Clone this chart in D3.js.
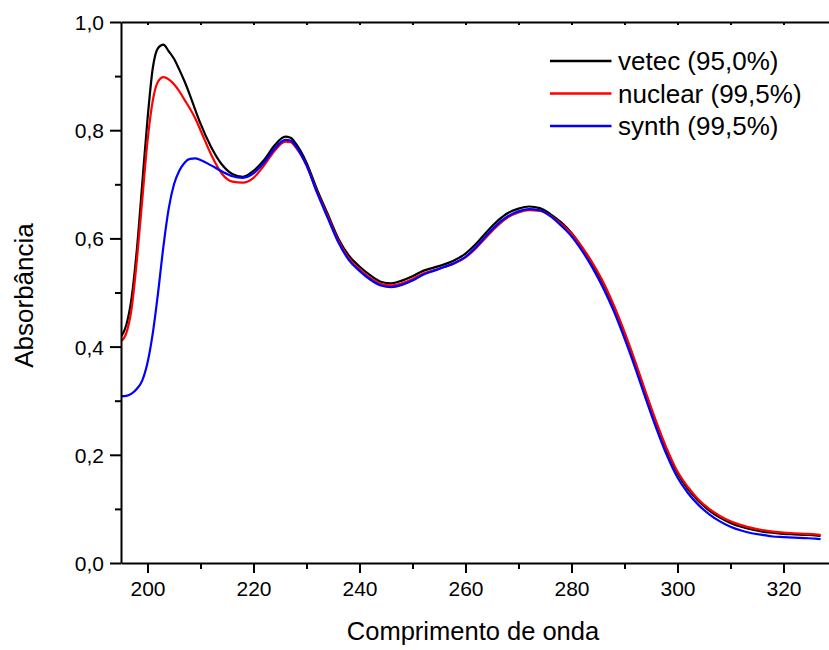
<!DOCTYPE html>
<html>
<head>
<meta charset="utf-8">
<script src="https://cdn.jsdelivr.net/npm/d3@7"></script>
<style>
  html, body { margin: 0; padding: 0; background: #fff; }
  svg { display: block; font-family: "Liberation Sans", Arial, sans-serif; }
</style>
</head>
<body>
<svg id="chart" width="829" height="650"></svg>
<script>
// Wavelength samples (nm)
const wavelength = [195,196,197,198,199,200,201,202,203,204,205,206,207,208,209,210,
  212,214,216,218,220,222,224,226,227,228,230,232,234,236,238,240,242,244,246,248,250,
  252,254,256,258,260,262,264,266,268,270,272,274,276,278,280,282,284,286,288,290,292,
  294,296,298,300,302,304,306,308,310,312,314,316,318,320,322,324,326,327];

// Absorbance per sample
const vetec = [0.418,0.44,0.49,0.58,0.70,0.82,0.915,0.952,0.958,0.946,0.932,0.912,0.89,0.865,0.838,0.812,
  0.769,0.737,0.719,0.714,0.725,0.745,0.772,0.788,0.786,0.775,0.74,0.69,0.645,0.60,0.568,0.548,0.532,0.52,0.517,0.522,0.53,
  0.54,0.546,0.552,0.56,0.572,0.59,0.612,0.632,0.647,0.655,0.659,0.656,0.645,0.630,0.610,0.583,0.552,0.516,0.473,0.424,0.370,
  0.313,0.258,0.208,0.166,0.136,0.114,0.097,0.084,0.074,0.067,0.062,0.058,0.056,0.054,0.053,0.052,0.051,0.050];

const nuclear = [0.41,0.425,0.47,0.56,0.67,0.78,0.855,0.89,0.898,0.894,0.885,0.872,0.856,0.84,0.822,0.80,
  0.755,0.72,0.705,0.703,0.712,0.735,0.762,0.779,0.778,0.768,0.735,0.686,0.641,0.596,0.563,0.543,0.527,0.516,0.513,0.517,0.525,
  0.535,0.541,0.547,0.554,0.565,0.582,0.603,0.623,0.639,0.648,0.652,0.651,0.642,0.627,0.609,0.584,0.554,0.519,0.476,0.427,0.373,
  0.316,0.261,0.211,0.169,0.140,0.117,0.100,0.087,0.077,0.070,0.065,0.061,0.058,0.056,0.055,0.054,0.053,0.052];

const synth = [0.308,0.309,0.313,0.322,0.337,0.37,0.425,0.50,0.585,0.655,0.70,0.725,0.740,0.747,0.748,0.745,
  0.735,0.724,0.715,0.712,0.72,0.74,0.766,0.782,0.781,0.77,0.735,0.684,0.638,0.593,0.56,0.54,0.524,0.513,0.51,0.514,0.522,
  0.533,0.54,0.547,0.555,0.566,0.584,0.606,0.626,0.641,0.65,0.654,0.652,0.641,0.624,0.604,0.577,0.545,0.508,0.465,0.415,0.361,
  0.304,0.249,0.199,0.158,0.129,0.107,0.090,0.077,0.067,0.060,0.055,0.052,0.049,0.048,0.047,0.046,0.045,0.044];

const seriesNames = ["vetec (95,0%)", "nuclear (99,5%)", "synth (99,5%)"];
const seriesColors = ["#000000", "#ff0000", "#0000ff"];
const seriesValues = [vetec, nuclear, synth];

const xTicks = [200, 220, 240, 260, 280, 300, 320];
const xMinorTicks = [210, 230, 250, 270, 290, 310];
const yTicks = [0.0, 0.2, 0.4, 0.6, 0.8, 1.0];
const yMinorTicks = [0.1, 0.3, 0.5, 0.7, 0.9];

const xTitle = "Comprimento de onda";
const yTitle = "Absorbância";

const svg = d3.select("#chart");
const m = { left: 121, top: 22, right: 836.5, bottom: 563 };

const x = d3.scaleLinear().domain([195, 330]).range([m.left, m.right]);
const y = d3.scaleLinear().domain([0, 1.0]).range([m.bottom, m.top]);
const fmt = d => d.toFixed(1).replace(".", ",");

svg.append("defs").append("clipPath").attr("id", "plotclip")
  .append("rect").attr("x", m.left).attr("y", m.top)
  .attr("width", m.right - m.left).attr("height", m.bottom - m.top);

// Curves
const line = d3.line()
  .x(d => x(d[0])).y(d => y(d[1]))
  .curve(d3.curveMonotoneX);

const plot = svg.append("g").attr("clip-path", "url(#plotclip)");
seriesValues.forEach((vals, i) => {
  plot.append("path")
    .datum(wavelength.map((w, j) => [w, vals[j]]))
    .attr("fill", "none")
    .attr("stroke", seriesColors[i])
    .attr("stroke-width", 2.2)
    .attr("stroke-linejoin", "round")
    .attr("d", line);
});

// Axes
function styleAxis(g) {
  g.selectAll("path.domain").attr("stroke", "#000").attr("stroke-width", 2);
  g.selectAll(".tick line").attr("stroke", "#000").attr("stroke-width", 2);
  g.selectAll("text").attr("fill", "#000").style("font-size", "21px")
    .style("font-family", "'Liberation Sans', Arial, sans-serif");
}

const xAxis = svg.append("g").attr("transform", `translate(0,${m.bottom})`)
  .call(d3.axisBottom(x).tickValues(xTicks).tickFormat(d3.format("d"))
    .tickSizeInner(10).tickSizeOuter(0).tickPadding(8));
styleAxis(xAxis);

svg.append("g").attr("transform", `translate(0,${m.bottom})`)
  .call(d3.axisBottom(x).tickValues(xMinorTicks).tickFormat("").tickSize(6).tickSizeOuter(0))
  .call(g => { g.select(".domain").remove(); styleAxis(g); });

const yAxis = svg.append("g").attr("transform", `translate(${m.left},0)`)
  .call(d3.axisLeft(y).tickValues(yTicks).tickFormat(fmt)
    .tickSizeInner(11).tickSizeOuter(0).tickPadding(6));
styleAxis(yAxis);
yAxis.selectAll("text").attr("dy", "0.36em");

svg.append("g").attr("transform", `translate(${m.left},0)`)
  .call(d3.axisLeft(y).tickValues(yMinorTicks).tickFormat("").tickSize(6).tickSizeOuter(0))
  .call(g => { g.select(".domain").remove(); styleAxis(g); });

// Top frame with small inward ticks
svg.append("g").attr("transform", `translate(0,${m.top})`)
  .call(d3.axisTop(x).tickValues(xTicks.concat(xMinorTicks)).tickFormat("").tickSize(-3).tickSizeOuter(0))
  .call(styleAxis);

// Right frame
svg.append("g").attr("transform", `translate(${m.right},0)`)
  .call(d3.axisRight(y).tickValues(yTicks).tickFormat("").tickSize(-3).tickSizeOuter(0))
  .call(styleAxis);

// Axis titles
svg.append("text")
  .attr("x", (m.left + 829) / 2 - 2).attr("y", 640)
  .attr("text-anchor", "middle")
  .style("font-size", "25.5px")
  .text(xTitle);

svg.append("text")
  .attr("transform", `translate(33,${(m.top + m.bottom) / 2 + 3}) rotate(-90)`)
  .attr("text-anchor", "middle")
  .style("font-size", "26px")
  .text(yTitle);

// Legend
const legend = svg.append("g").attr("transform", "translate(550,61)");
seriesNames.forEach((name, i) => {
  const row = legend.append("g").attr("transform", `translate(0,${i * 32.5})`);
  row.append("line").attr("x1", 0).attr("x2", 61.5).attr("y1", 0).attr("y2", 0)
    .attr("stroke", seriesColors[i]).attr("stroke-width", 2.4);
  row.append("text").attr("x", 68).attr("y", 0).attr("dy", "0.35em")
    .style("font-size", "26px").text(name);
});
</script>
</body>
</html>
